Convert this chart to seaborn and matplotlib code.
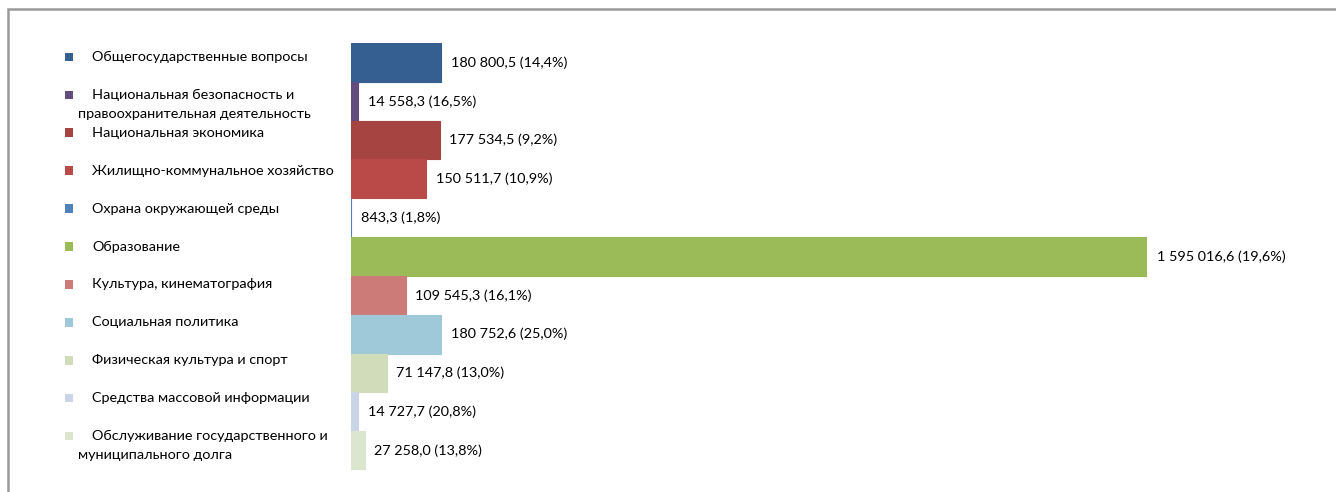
from matplotlib import pyplot as plt
from matplotlib.patches import Rectangle
import pandas as pd
import seaborn as sns

categories = [
    "Общегосударственные вопросы",
    "Национальная безопасность и\nправоохранительная деятельность",
    "Национальная экономика",
    "Жилищно-коммунальное хозяйство",
    "Охрана окружающей среды",
    "Образование",
    "Культура, кинематография",
    "Социальная политика",
    "Физическая культура и спорт",
    "Средства массовой информации",
    "Обслуживание государственного и\nмуниципального долга",
]
values = [180800.5, 14558.3, 177534.5, 150511.7, 843.3, 1595016.6,
          109545.3, 180752.6, 71147.8, 14727.7, 27258.0]
shares = [14.4, 16.5, 9.2, 10.9, 1.8, 19.6, 16.1, 25.0, 13.0, 20.8, 13.8]
colors = ["#355F91", "#624B7D", "#A64441", "#B94A48", "#4F81BD", "#9BBB59",
          "#CC7B79", "#9FC8D8", "#D0DCBA", "#C9D5E7", "#DCE6CF"]

df = pd.DataFrame({"category": categories, "value": values, "share": shares})


def fmt(v, p):
    num = f"{v:,.1f}".replace(",", " ").replace(".", ",")
    pct = f"{p:.1f}".replace(".", ",")
    return f"{num} ({pct}%)"


labels = [fmt(v, p) for v, p in zip(values, shares)]

sns.set_style("white")
plt.rcParams["font.family"] = ["Lato", "DejaVu Sans"]
FS = 10.4

W, H = 1336, 492
fig = plt.figure(figsize=(W / 100, H / 100), dpi=100)

# bars
ax = fig.add_axes([351 / W, 22 / H, (1147 - 351) / W, 427 / H])
sns.barplot(data=df, x="value", y="category", hue="category", palette=colors,
            saturation=1, legend=False, orient="h", width=1, errorbar=None,
            ax=ax)
for bar in ax.patches:
    bar.set_edgecolor(bar.get_facecolor())
    bar.set_linewidth(0.8)
for cont, lab in zip(ax.containers, labels):
    ax.bar_label(cont, labels=[lab], padding=7, fontsize=FS, color="black")
ax.set_xlim(0, max(values))
ax.set_ylim(len(categories) - 0.5, -0.5)
ax.axis("off")

# legend drawn on its own axes
lax = fig.add_axes([0, (H - 455) / H, 351 / W, 417 / H])
lax.set_xlim(0, 351)
lax.set_ylim(len(categories) - 0.5, -0.5)
lax.axis("off")
sns.scatterplot(x=[69] * len(categories), y=list(range(len(categories))),
                hue=categories, palette=colors, marker="s", s=38,
                linewidth=0, legend=False, ax=lax)
for i, name in enumerate(categories):
    for k, line in enumerate(name.split("\n")):
        lax.annotate(line, xy=(92 if k == 0 else 78, i), xytext=(0, -k * 13.7),
                     textcoords="offset points", va="center", ha="left",
                     fontsize=FS, color="black")

# outer frame (partly cut off like in the original)
fig.patches.append(Rectangle((8 / W, -0.1), 1.2, (H - 9) / H + 0.1,
                             transform=fig.transFigure, fill=False,
                             edgecolor="#9a9a9a", linewidth=1.8))

fig.savefig("out.png", dpi=100, facecolor="white")
